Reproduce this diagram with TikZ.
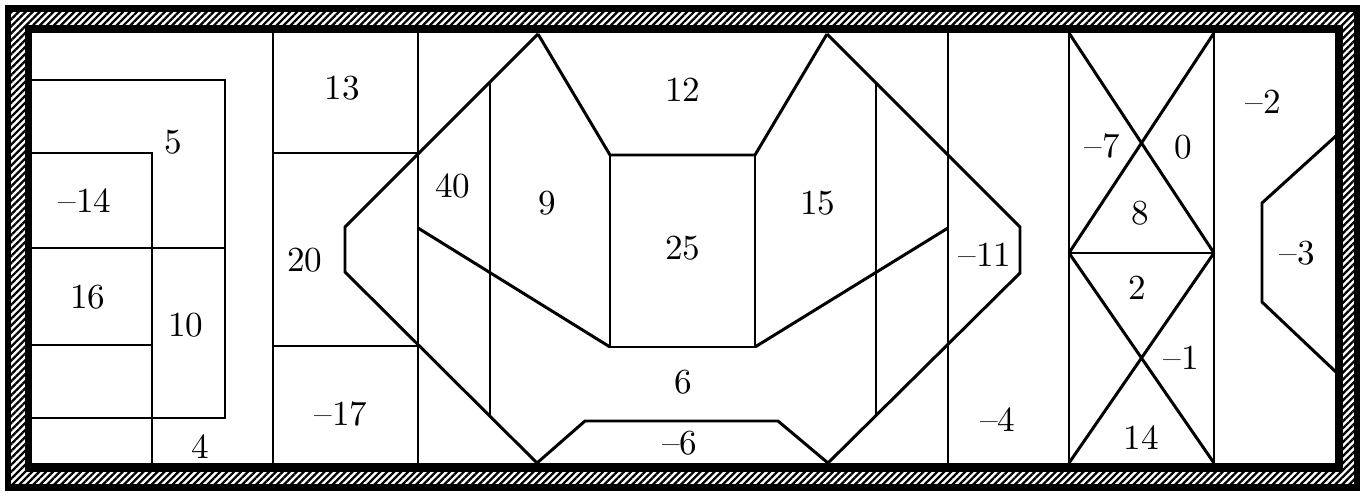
\documentclass[tikz,border=0pt]{standalone}
\usetikzlibrary{patterns.meta}
\begin{document}
\begin{tikzpicture}[x=0.01cm,y=-0.01cm,
    cell/.style={line width=0.85pt,line join=miter},
    lbl/.style={inner sep=0pt}]
    \useasboundingbox (0,0) rectangle (1362,497);

    % Wall
    \fill[black] (5,5) rectangle (1360,491);
    \fill[white] (11,12) rectangle (1354,484);
    \fill[pattern={Lines[angle=45,distance=1.4pt,line width=0.65pt]}] (11,12) rectangle (1354,484);
    \fill[black] (25,25) rectangle (1343,472);
    \fill[white] (32,33) rectangle (1335,463);

    % Left block
    \draw[cell] (30,80) -| (225,418) -- (30,418);
    \draw[cell] (30,153) -| (152,466);
    \draw[cell] (30,248) -- (225,248);
    \draw[cell] (30,345) -- (152,345);
    \draw[cell] (273,30) -- (273,466);

    % Second block
    \draw[cell] (418,30) -- (418,466);
    \draw[cell] (273,153) -- (418,153);
    \draw[cell] (273,346) -- (418,346);

    % Octagon
    \draw[cell] (538,34) -- (345,227) -- (345,272) -- (537,463);
    \draw[cell] (827,34) -- (1020,227) -- (1020,273) -- (828,463);
    \draw[cell] (538,34) -- (610,155) -- (755,155) -- (827,34);
    \draw[cell] (610,155) -- (610,347) -- (755,347) -- (755,155);
    \draw[cell] (418,228) -- (610,347);
    \draw[cell] (755,347) -- (948,228);
    \draw[cell] (490,82) -- (490,416);
    \draw[cell] (876,83) -- (876,416);
    \draw[cell] (948,30) -- (948,466);
    \draw[cell] (537,463) -- (585,421) -- (778,421) -- (828,463);

    % Crossed block
    \draw[cell] (1069,30) -- (1069,466);
    \draw[cell] (1214,30) -- (1214,466);
    \draw[cell] (1069,33) -- (1214,253) (1214,33) -- (1069,253);
    \draw[cell] (1069,253) -- (1214,253);
    \draw[cell] (1069,253) -- (1214,463) (1214,253) -- (1069,463);

    % Right block
    \draw[cell] (1337,135) -- (1262,203) -- (1262,302) -- (1337,373);

    % Values
    \node[lbl] (v5) at (173,142) {5};
    \node[lbl] (vm14) at (85,201) {\textendash14};
    \node[lbl] (v16) at (88,297) {16};
    \node[lbl] (v10) at (186,325) {10};
    \node[lbl] (v4) at (200,447) {4};
    \node[lbl] (v13) at (342,88) {13};
    \node[lbl] (v20) at (305,260) {20};
    \node[lbl] (vm17) at (341,414) {\textendash17};
    \node[lbl] (v40) at (453,186) {40};
    \node[lbl] (v9) at (547,203) {9};
    \node[lbl] (v12) at (683,90) {12};
    \node[lbl] (v25) at (683,248) {25};
    \node[lbl] (v15) at (818,203) {15};
    \node[lbl] (v6) at (683,382) {6};
    \node[lbl] (vm6) at (680,443) {\textendash6};
    \node[lbl] (vm11) at (985,255) {\textendash11};
    \node[lbl] (vm4) at (998,420) {\textendash4};
    \node[lbl] (vm7) at (1102,146) {\textendash7};
    \node[lbl] (v0) at (1183,147) {0};
    \node[lbl] (v8) at (1140,213) {8};
    \node[lbl] (v2) at (1137,288) {2};
    \node[lbl] (vm1) at (1181,358) {\textendash1};
    \node[lbl] (v14) at (1141,438) {14};
    \node[lbl] (vm2) at (1263,102) {\textendash2};
    \node[lbl] (vm3) at (1297,253) {\textendash3};
\end{tikzpicture}
\end{document}
